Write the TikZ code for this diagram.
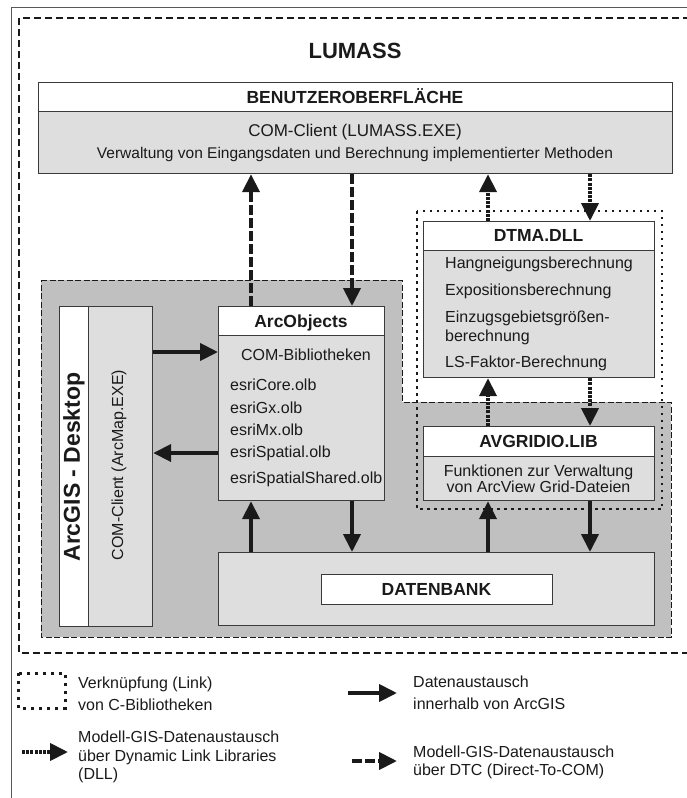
\documentclass[tikz,border=0pt]{standalone}
\usepackage{fontspec}
\setmainfont{Liberation Sans}
\usetikzlibrary{arrows.meta}
\definecolor{panel}{HTML}{C0C0C0}
\definecolor{lgray}{HTML}{DEDEDE}
\definecolor{ink}{HTML}{1A1A1A}
\definecolor{edge}{HTML}{3A3A3A}
\begin{document}
\begin{tikzpicture}[x=1pt,y=-1pt,
  hdr/.style={draw=edge, line width=1.2pt, fill=white, inner sep=0pt, anchor=north west},
  bdy/.style={draw=edge, line width=1.2pt, fill=lgray, inner sep=0pt, anchor=north west},
  tB/.style={font=\fontsize{17.5}{20}\selectfont\bfseries, inner sep=0pt, text=ink, anchor=base},
  tR/.style={font=\fontsize{16}{19}\selectfont, inner sep=0pt, text=ink, anchor=base west},
  tC/.style={font=\fontsize{16}{19}\selectfont, inner sep=0pt, text=ink, anchor=base},
  sol/.style={line width=4pt, draw=ink, -{Triangle[length=18pt,width=17pt]}},
  dll/.style={sol, dash pattern=on 3pt off 1.2pt},
  dtc/.style={sol, dash pattern=on 10pt off 3pt},
  linkframe/.style={draw=ink, line width=2.5pt, dash pattern=on 2.5pt off 4.5pt},
  outerframe/.style={draw=ink, line width=1.8pt, dash pattern=on 7pt off 4pt},
  panelframe/.style={draw=ink, line width=1pt, dash pattern=on 6pt off 2.5pt, fill=panel}
]
\useasboundingbox (0,0) rectangle (686,798);
% outer frames
\draw[draw=black!65, line width=1pt] (11,805) -- (11,7) -- (700,7);
\draw[outerframe] (700,653) -- (19,653) -- (19,18) -- (700,18);
\node[font=\fontsize{22}{25}\selectfont\bfseries, inner sep=0pt, text=ink, anchor=base] (title) at (355,58) {LUMASS};

% ArcGIS panel
\path[panelframe] (41,280) -- (402,280) -- (402,402) -- (671,402) -- (671,637) -- (41,637) -- cycle;
% link frame
\draw[linkframe] (417,211) rectangle (662,509);

% Benutzeroberflaeche
\node[hdr, minimum width=634pt, minimum height=29pt] (benH) at (38,82) {};
\node[bdy, minimum width=634pt, minimum height=62pt] (benB) at (38,111) {};
\node[tB] (benT) at (355,103) {BENUTZEROBERFLÄCHE};
\node[tC, font=\fontsize{17}{20}\selectfont] (benT2) at (355,136) {COM-Client (LUMASS.EXE)};
\node[tC, font=\fontsize{15.5}{18}\selectfont] (benT3) at (355,158) {Verwaltung von Eingangsdaten und Berechnung implementierter Methoden};

% ArcGIS Desktop
\node[hdr, minimum width=29pt, minimum height=320pt] (gisL) at (59,306) {};
\node[bdy, minimum width=64pt, minimum height=320pt] (gisR) at (88,306) {};
\node[font=\fontsize{23}{26}\selectfont\bfseries, inner sep=0pt, text=ink, rotate=90] (gisT) at (74,467) {ArcGIS - Desktop};
\node[font=\fontsize{16}{19}\selectfont, inner sep=0pt, text=ink, rotate=90] (gisT2) at (119,465) {COM-Client (ArcMap.EXE)};

% ArcObjects
\node[hdr, minimum width=166pt, minimum height=29pt] (arcH) at (218,306) {};
\node[bdy, minimum width=166pt, minimum height=165pt] (arcB) at (218,335) {};
\node[tB] (arcT) at (301,327) {ArcObjects};
\node[tC] (arcT1) at (306,360) {COM-Bibliotheken};
\node[tR] (arcT2) at (230,390) {esriCore.olb};
\node[tR] (arcT3) at (230,413) {esriGx.olb};
\node[tR] (arcT4) at (230,435) {esriMx.olb};
\node[tR] (arcT5) at (230,457) {esriSpatial.olb};
\node[tR] (arcT6) at (230,483) {esriSpatialShared.olb};

% DTMA.DLL
\node[hdr, minimum width=231pt, minimum height=29pt] (dtmaH) at (423,221) {};
\node[bdy, minimum width=231pt, minimum height=127pt] (dtmaB) at (423,250) {};
\node[tB] (dtmaT) at (538.5,241) {DTMA.DLL};
\node[tR] (dtmaT1) at (445,268) {Hangneigungsberechnung};
\node[tR] (dtmaT2) at (445,295) {Expositionsberechnung};
\node[tR] (dtmaT3) at (445,322) {Einzugsgebietsgrößen-};
\node[tR] (dtmaT4) at (445,341) {berechnung};
\node[tR] (dtmaT5) at (445,367) {LS-Faktor-Berechnung};

% AVGRIDIO.LIB
\node[hdr, minimum width=231pt, minimum height=30pt] (avgH) at (423,426) {};
\node[bdy, minimum width=231pt, minimum height=44pt] (avgB) at (423,456) {};
\node[tB] (avgT) at (538.5,447) {AVGRIDIO.LIB};
\node[tC] (avgT1) at (538.5,476) {Funktionen zur Verwaltung};
\node[tC] (avgT2) at (538.5,492) {von ArcView Grid-Dateien};

% Datenbank
\node[bdy, minimum width=436pt, minimum height=73pt] (db) at (218,552) {};
\node[hdr, minimum width=231pt, minimum height=30pt] (dbI) at (321,574) {};
\node[tB] (dbT) at (436.5,595) {DATENBANK};

% connector x/y positions
\coordinate (xA) at (251,0);
\coordinate (xB) at (352,0);
\coordinate (xC) at (488,0);
\coordinate (xD) at (590,0);
\coordinate (yR) at (0,352);
\coordinate (yL) at (0,453);

\draw[dtc] (arcH.north -| xA) -- (benB.south -| xA);
\draw[dtc] (benB.south -| xB) -- (arcH.north -| xB);
\draw[dll] (dtmaH.north -| xC) -- (benB.south -| xC);
\draw[dll] (benB.south -| xD) -- (dtmaH.north -| xD);
\draw[dll] (avgH.north -| xC) -- (dtmaB.south -| xC);
\draw[dll] (dtmaB.south -| xD) -- (avgH.north -| xD);
\draw[sol] (db.north -| xC) -- (avgB.south -| xC);
\draw[sol] (avgB.south -| xD) -- (db.north -| xD);
\draw[sol] (db.north -| xA) -- (arcB.south -| xA);
\draw[sol] (arcB.south -| xB) -- (db.north -| xB);
\draw[sol] (gisR.east |- yR) -- (arcB.west |- yR);
\draw[sol] (arcB.west |- yL) -- (gisR.east |- yL);

% legend
\draw[draw=ink, line width=3pt, dash pattern=on 3pt off 5pt] (18,673) rectangle (65,708);
\node[tR] (lg1a) at (78,688) {Verknüpfung (Link)};
\node[tR] (lg1b) at (78,710) {von C-Bibliotheken};
\coordinate (l2s) at (348,693);
\coordinate (l2e) at (397,693);
\draw[sol] (l2s) -- (l2e);
\node[tR] (lg2a) at (413,687) {Datenaustausch};
\node[tR] (lg2b) at (413,709) {innerhalb von ArcGIS};
\coordinate (l3s) at (22,752);
\coordinate (l3e) at (68,752);
\draw[dll] (l3s) -- (l3e);
\node[tR] (lg3a) at (78,742) {Modell-GIS-Datenaustausch};
\node[tR] (lg3b) at (78,761) {über Dynamic Link Libraries};
\node[tR] (lg3c) at (78,779) {(DLL)};
\coordinate (l4s) at (352,761);
\coordinate (l4e) at (397,761);
\draw[dtc] (l4s) -- (l4e);
\node[tR] (lg4a) at (413,757) {Modell-GIS-Datenaustausch};
\node[tR] (lg4b) at (413,775) {über DTC (Direct-To-COM)};
\end{tikzpicture}
\end{document}
